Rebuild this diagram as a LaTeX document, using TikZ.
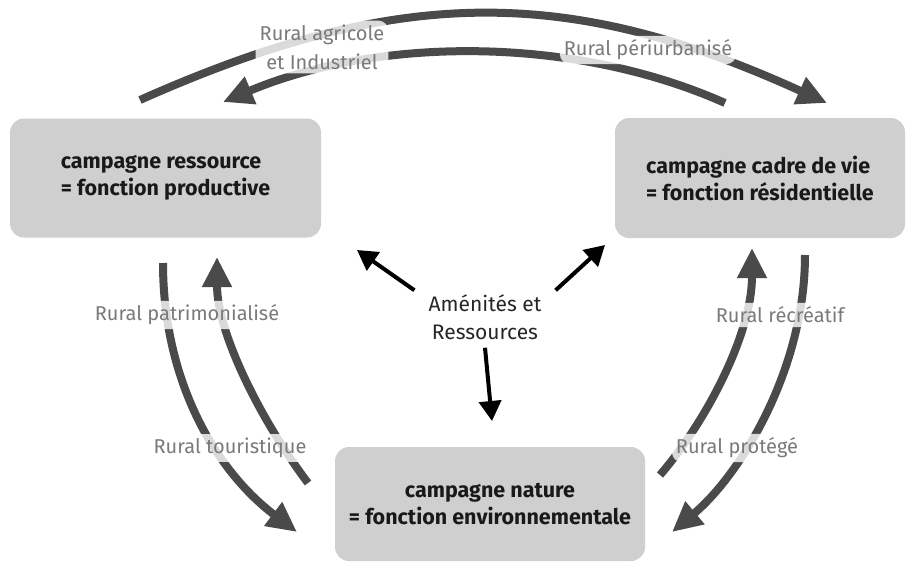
\documentclass[tikz,border=0pt]{standalone}
\usepackage{fontspec}
\usepackage{xcolor}
\setmainfont{Fira Sans}
\usetikzlibrary{arrows.meta}

\definecolor{boxgray}{HTML}{CFCFCF}
\definecolor{arcgray}{HTML}{4A4A4A}
\definecolor{labgray}{HTML}{7A7A7A}

\begin{document}
\begin{tikzpicture}[x=1pt,y=-1pt]
          \tikzset{
            FonctionStyle/.style = { rectangle, rounded corners=14pt,
              fill = boxgray, align = left, text = black!90,
              font = \fontsize{21.5}{27}\selectfont\bfseries },
            FluxStyle/.style = { line width = 8pt, draw = arcgray,
              -{Triangle[length=30pt,width=28pt]} },
            RuralStyle/.style = { rectangle, rounded corners=10pt,
              fill = white, fill opacity = 0.8, text opacity = 1,
              text = labgray, align = center, inner sep = 4pt,
              font = \fontsize{20}{29}\selectfont },
            AmeniteStyle/.style = { line width = 4pt, draw = black,
              -{Triangle[length=20pt,width=22pt]} } }

          \useasboundingbox (0,0) rectangle (913,563);

          % les trois campagnes
          \node[FonctionStyle, minimum width=311pt, minimum height=119pt] (RESSOURCE) at (165.5,178) {campagne ressource\\= fonction productive};
          \node[FonctionStyle, minimum width=290pt, minimum height=120pt] (CADRE) at (760,178) {campagne cadre de vie\\= fonction r\'esidentielle};
          \node[FonctionStyle, minimum width=310pt, minimum height=114pt, align=center] (NATURE) at (490,504) {campagne nature\\= fonction environnementale};

          % Amenites au centre
          \node[align=center, inner xsep=6pt, inner ysep=4pt, text=black!85,
                font=\fontsize{21}{28}\selectfont] (AMENITE) at (485,317) {Am\'enit\'es et\\Ressources};
          \coordinate (VERSRESS) at (357,250);
          \coordinate (VERSCADRE) at (605,245);
          \coordinate (VERSNAT) at (492,421);
          \draw[AmeniteStyle] ([xshift=-8pt]AMENITE.north west) -- (VERSRESS);
          \draw[AmeniteStyle] ([xshift=8pt]AMENITE.north east) -- (VERSCADRE);
          \draw[AmeniteStyle] ([yshift=-4pt]AMENITE.south) -- (VERSNAT);

          % extremites des fleches
          \coordinate (R1) at (140,100);   \coordinate (C1) at (827,103);
          \coordinate (C2) at (725,103);   \coordinate (R2) at (223,102);
          \coordinate (R3) at (163,263);   \coordinate (N3) at (297,532);
          \coordinate (N4) at (308,483);   \coordinate (R4) at (217,257);
          \coordinate (N5) at (660,475);   \coordinate (C5) at (752,248);
          \coordinate (C6) at (805,255);   \coordinate (N6) at (672,532);

          \draw[FluxStyle] (R1) .. controls (398,-15) and (568,-15) .. (C1);
          \draw[FluxStyle] (C2) .. controls (575,36) and (380,36) .. (R2);
          \draw[FluxStyle] (R3) .. controls (163,380) and (215,470) .. (N3);
          \draw[FluxStyle] (N4) .. controls (264,425) and (217,335) .. (R4);
          \draw[FluxStyle] (N5) .. controls (705,423) and (752,335) .. (C5);
          \draw[FluxStyle] (C6) .. controls (805,370) and (740,475) .. (N6);

          % etiquettes
          \node[RuralStyle] (AGRI) at (322,47) {Rural agricole\\et Industriel};
          \node[RuralStyle] (PERI) at (648,50) {Rural p\'eriurbanis\'e};
          \node[RuralStyle] (PATRI) at (187,315) {Rural patrimonialis\'e};
          \node[RuralStyle] (TOUR) at (230,448) {Rural touristique};
          \node[RuralStyle] (RECRE) at (780,315) {Rural r\'ecr\'eatif};
          \node[RuralStyle] (PROT) at (737,448) {Rural prot\'eg\'e};
          % \draw[FluxStyle] (RESSOURCE) to (NATURE);
\end{tikzpicture}
\end{document}
